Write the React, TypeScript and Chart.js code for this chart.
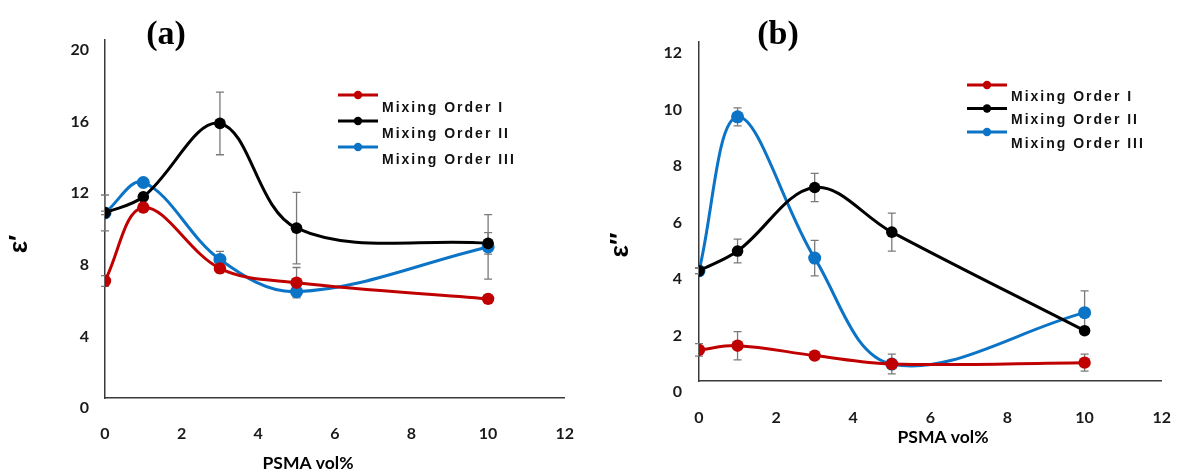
import { useEffect, useRef } from 'react';
import { Chart, registerables } from 'chart.js';

Chart.register(...registerables);

// ---------- data ----------
const psmaVol = [0, 1, 3, 5, 10];
const xTickValues = [0, 2, 4, 6, 8, 10, 12];
const seriesLabels = ['Mixing Order I', 'Mixing Order II', 'Mixing Order III'];

// (a) real permittivity ε′
const aOrderI = [7.1, 11.2, 7.8, 7.0, 6.1];
const aOrderIErr = [0.3, 0.25, 0.25, 0.85, 0];
const aOrderII = [10.9, 11.8, 15.9, 10.05, 9.2];
const aOrderIIErr = [1.0, 0.1, 1.75, 2.0, 0.6];
const aOrderIII = [10.9, 12.6, 8.3, 6.5, 9.0];
const aOrderIIIErr = [0.1, 0.1, 0.45, 0, 1.8];
const aYTicks = [0, 4, 8, 12, 16, 20];

// (b) imaginary permittivity ε″
const bOrderI = [1.5, 1.65, 1.3, 1.0, 1.05];
const bOrderIErr = [0.22, 0.5, 0.12, 0.1, 0.3];
const bOrderII = [4.3, 5.0, 7.25, 5.67, 2.18];
const bOrderIIErr = [0.1, 0.42, 0.5, 0.67, 0.1];
const bOrderIII = [4.3, 9.75, 4.75, 1.0, 2.82];
const bOrderIIIErr = [0.1, 0.32, 0.63, 0.35, 0.77];
const bYTicks = [0, 2, 4, 6, 8, 10, 12];

// ---------- styles ----------
const seriesColors = ['#C00000', '#000000', '#0B74C6'];
const pointRadii = [6.2, 5.8, 6.5];
const TICK_FONT = { family: 'Lato', weight: 'bold' as const, size: 16 };

type PanelCfg = {
  letter: string;
  yTitle: string;
  xTitle: string;
  values: number[][];
  errors: number[][];
  yTicks: number[];
  yMin: number;
  yMax: number;
  canvasLeft: number;
  canvasWidth: number;
  pad: { left: number; right: number; top: number; bottom: number };
  yAxisWidth: number;
  xAxisHeight: number;
  xTickPad: number;
  yTickPad: number;
  letterPos: [number, number];
  yTitlePos: [number, number];
  xTitlePos: [number, number];
  legend: { x: number; y: number; step: number; textDy: number };
};

const panels: PanelCfg[] = [
  {
    letter: '(a)',
    yTitle: 'ε′',
    xTitle: 'PSMA vol%',
    values: [aOrderI, aOrderII, aOrderIII],
    errors: [aOrderIErr, aOrderIIErr, aOrderIIIErr],
    yTicks: aYTicks,
    yMin: 0.56,
    yMax: 20.56,
    canvasLeft: 0,
    canvasWidth: 600,
    pad: { left: 0, right: 27, top: 40, bottom: 0 },
    yAxisWidth: 105,
    xAxisHeight: 72,
    xTickPad: 26,
    yTickPad: 16,
    letterPos: [166, 35],
    yTitlePos: [20, 244],
    xTitlePos: [308, 463],
    legend: { x: 338, y: 95, step: 26, textDy: 13 },
  },
  {
    letter: '(b)',
    yTitle: 'ε″',
    xTitle: 'PSMA vol%',
    values: [bOrderI, bOrderII, bOrderIII],
    errors: [bOrderIErr, bOrderIIErr, bOrderIIIErr],
    yTicks: bYTicks,
    yMin: 0.4,
    yMax: 12.4,
    canvasLeft: 600,
    canvasWidth: 598,
    pad: { left: 0, right: 13, top: 42, bottom: 0 },
    yAxisWidth: 99,
    xAxisHeight: 89,
    xTickPad: 27,
    yTickPad: 17,
    letterPos: [178, 35],
    yTitlePos: [21, 245],
    xTitlePos: [343, 437],
    legend: { x: 367, y: 85, step: 23.5, textDy: 12 },
  },
];

const HEIGHT = 470;

function makeChart(canvas: HTMLCanvasElement, p: PanelCfg): Chart {
  const datasets = p.values.map((vals, si) => ({
    label: seriesLabels[si],
    data: vals.map((v, j) => ({ x: psmaVol[j], y: v })),
    errors: p.errors[si],
    borderColor: seriesColors[si],
    backgroundColor: seriesColors[si],
    pointBackgroundColor: seriesColors[si],
    pointBorderColor: seriesColors[si],
    pointBorderWidth: 0,
    pointRadius: pointRadii[si],
    borderWidth: 3,
    tension: 0.36,
    fill: false,
  }));

  const errorBars = {
    id: 'errorBars',
    beforeDatasetsDraw(chart: any) {
      const { ctx, scales } = chart;
      const xs = scales.x;
      const ys = scales.y;
      ctx.save();
      ctx.strokeStyle = '#7a7a7a';
      ctx.lineWidth = 1.3;
      chart.data.datasets.forEach((ds: any) => {
        ds.data.forEach((pt: any, j: number) => {
          const e = ds.errors[j];
          if (!e) return;
          const px = xs.getPixelForValue(pt.x);
          const t = ys.getPixelForValue(pt.y + e);
          const b = ys.getPixelForValue(pt.y - e);
          ctx.beginPath();
          ctx.moveTo(px, t);
          ctx.lineTo(px, b);
          ctx.moveTo(px - 4, t);
          ctx.lineTo(px + 4, t);
          ctx.moveTo(px - 4, b);
          ctx.lineTo(px + 4, b);
          ctx.stroke();
        });
      });
      ctx.restore();
    },
  };

  const overlay = {
    id: 'overlay',
    afterDraw(chart: any) {
      const { ctx } = chart;
      ctx.save();
      // panel letter
      ctx.fillStyle = '#000';
      ctx.font = 'bold 34px "Liberation Serif", "Times New Roman", serif';
      ctx.textAlign = 'center';
      ctx.textBaseline = 'middle';
      ctx.fillText(p.letter, p.letterPos[0], p.letterPos[1]);
      // x title
      ctx.font = 'bold 17.5px Lato, "Open Sans", sans-serif';
      ctx.fillText(p.xTitle, p.xTitlePos[0], p.xTitlePos[1]);
      // y title
      ctx.save();
      ctx.translate(p.yTitlePos[0], p.yTitlePos[1]);
      ctx.rotate(-Math.PI / 2);
      ctx.font = 'bold 26px "Liberation Sans", Arial, sans-serif';
      ctx.fillText(p.yTitle, 0, 0);
      ctx.restore();
      // legend
      const lg = p.legend;
      chart.data.datasets.forEach((ds: any, i: number) => {
        const y = lg.y + i * lg.step;
        ctx.strokeStyle = ds.borderColor;
        ctx.lineWidth = 3;
        ctx.beginPath();
        ctx.moveTo(lg.x, y);
        ctx.lineTo(lg.x + 40, y);
        ctx.stroke();
        ctx.fillStyle = ds.borderColor;
        ctx.beginPath();
        ctx.arc(lg.x + 20, y, 4.2, 0, Math.PI * 2);
        ctx.fill();
        ctx.fillStyle = '#111';
        ctx.font = 'bold 14px "Liberation Sans", Arial, sans-serif';
        (ctx as any).letterSpacing = '2px';
        ctx.textAlign = 'left';
        ctx.textBaseline = 'middle';
        ctx.fillText(ds.label, lg.x + 44, y + lg.textDy);
        (ctx as any).letterSpacing = '0px';
      });
      ctx.restore();
    },
  };

  return new Chart(canvas, {
    type: 'line',
    data: { datasets: datasets as any },
    plugins: [errorBars, overlay],
    options: {
      responsive: false,
      animation: false,
      devicePixelRatio: 1,
      layout: { padding: p.pad },
      plugins: {
        legend: { display: false },
        tooltip: { enabled: false },
        title: { display: false },
      },
      scales: {
        x: {
          type: 'linear',
          min: 0,
          max: 12,
          afterBuildTicks: (scale: any) => {
            scale.ticks = xTickValues.map((v) => ({ value: v }));
          },
          afterFit: (scale: any) => {
            scale.height = p.xAxisHeight;
          },
          grid: { display: false, drawTicks: false, tickLength: 0 },
          border: { display: true, color: '#3a3a3a', width: 1.5 },
          ticks: {
            font: TICK_FONT,
            color: '#1a1a1a',
            padding: p.xTickPad,
            autoSkip: false,
            maxRotation: 0,
          },
        },
        y: {
          type: 'linear',
          min: p.yMin,
          max: p.yMax,
          afterBuildTicks: (scale: any) => {
            scale.ticks = p.yTicks.map((v) => ({ value: v }));
          },
          afterFit: (scale: any) => {
            scale.width = p.yAxisWidth;
          },
          grid: { display: false, drawTicks: false, tickLength: 0 },
          border: { display: true, color: '#3a3a3a', width: 1.5 },
          ticks: {
            font: TICK_FONT,
            color: '#1a1a1a',
            padding: p.yTickPad,
            autoSkip: false,
          },
        },
      },
    },
  });
}

function PanelChart({ cfg }: { cfg: PanelCfg }) {
  const ref = useRef<HTMLCanvasElement | null>(null);
  useEffect(() => {
    if (!ref.current) return;
    const chart = makeChart(ref.current, cfg);
    return () => chart.destroy();
  }, [cfg]);
  return (
    <canvas
      ref={ref}
      width={cfg.canvasWidth}
      height={HEIGHT}
      style={{
        position: 'absolute',
        left: cfg.canvasLeft,
        top: 0,
        width: cfg.canvasWidth,
        height: HEIGHT,
        display: 'block',
      }}
    />
  );
}

export default function App() {
  return (
    <div
      style={{
        position: 'absolute',
        left: 0,
        top: 0,
        width: 1198,
        height: HEIGHT,
        background: '#fff',
        overflow: 'hidden',
      }}
    >
      {panels.map((p) => (
        <PanelChart key={p.letter} cfg={p} />
      ))}
    </div>
  );
}
